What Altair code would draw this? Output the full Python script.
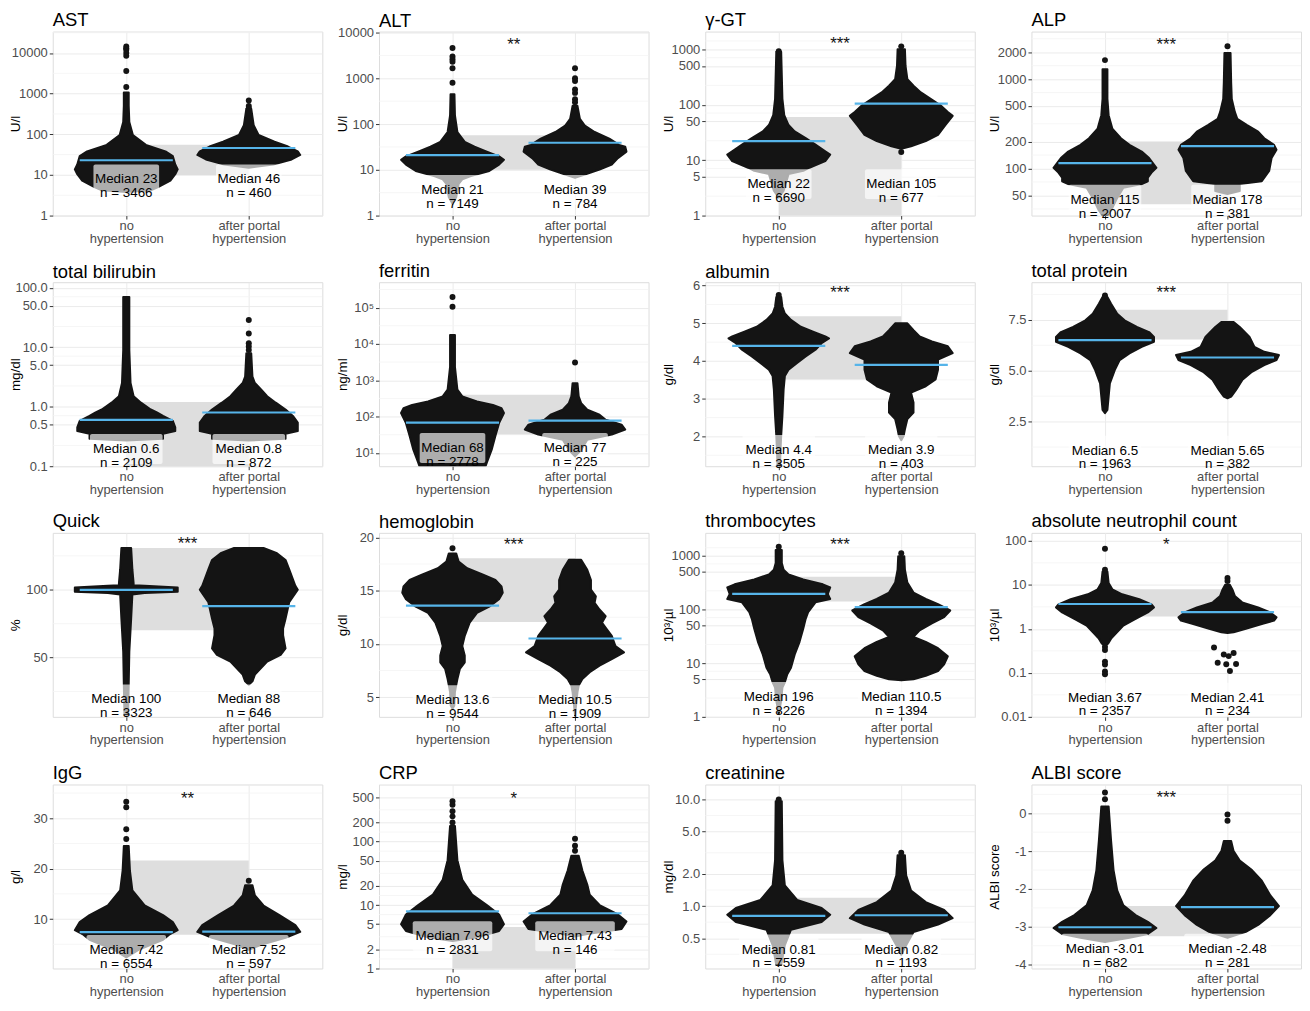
import math
import altair as alt
import pandas as pd

FONT = "Liberation Sans"
BLACK = "#141414"
BLUE = "#56B4E9"
W, H = 271, 185
X_DOMAIN = [0.4, 2.6]
PX_PER_UNIT = W / (X_DOMAIN[1] - X_DOMAIN[0])

titles = ["AST", "ALT", "γ-GT", "ALP",
          "total bilirubin", "ferritin", "albumin", "total protein",
          "Quick", "hemoglobin", "thrombocytes", "absolute neutrophil count",
          "IgG", "CRP", "creatinine", "ALBI score"]
units = ["U/l", "U/l", "U/l", "U/l", "mg/dl", "ng/ml", "g/dl", "g/dl",
         "%", "g/dl", "10³/µl", "10³/µl", "g/l", "mg/l", "mg/dl", "ALBI score"]
scale_types = ["log", "log", "log", "log", "log", "log", "linear", "linear",
               "linear", "linear", "log", "log", "linear", "log", "log", "linear"]
domains = [[1, 33700], [1, 10500], [1, 2090], [29.8, 3400],
           [0.1, 124], [4.3, 500000], [1.21, 6.09], [0.31, 9.35],
           [6.3, 142], [3.14, 20.43], [1, 2680], [0.01, 152],
           [0.2, 36.7], [1, 795], [0.26, 13.8], [-4.1, 0.76]]
tick_values = [[1, 10, 100, 1000, 10000], [1, 10, 100, 1000, 10000],
               [1, 5, 10, 50, 100, 500, 1000], [50, 100, 200, 500, 1000, 2000],
               [0.1, 0.5, 1, 5, 10, 50, 100], [10, 100, 1000, 10000, 100000],
               [2, 3, 4, 5, 6], [2.5, 5, 7.5],
               [50, 100], [5, 10, 15, 20], [1, 5, 10, 50, 100, 500, 1000],
               [0.01, 0.1, 1, 10, 100],
               [10, 20, 30], [1, 2, 5, 10, 20, 50, 100, 200, 500],
               [0.5, 1, 2, 5, 10], [-4, -3, -2, -1, 0]]
label_formats = ["~g", "~g", "~g", "~g", ".1f", "sup", "d", ".1f",
                 "d", "d", "~g", "~g", "d", "~g", ".1f", "int"]
group_names = [["no", "hypertension"], ["after portal", "hypertension"]]

medians_no = [23, 21, 22, 115, 0.6, 68, 4.4, 6.5, 100, 13.6, 196, 3.67, 7.42, 7.96, 0.81, -3.01]
medians_ph = [46, 39, 105, 178, 0.8, 77, 3.9, 5.65, 88, 10.5, 110.5, 2.41, 7.52, 7.43, 0.82, -2.48]
n_no = [3466, 7149, 6690, 2007, 2109, 2778, 3505, 1963, 3323, 9544, 8226, 2357, 6554, 2831, 7559, 682]
n_ph = [460, 784, 677, 381, 872, 225, 403, 382, 646, 1909, 1394, 234, 597, 146, 1193, 281]
stars = ["", "**", "***", "***", "", "", "***", "***", "***", "***", "***", "*", "**", "*", "", "***"]
star_y = [None, 6400, 1440, 2690, None, None, 5.92, 9.02, 136.4, 19.7, 1900, 100, 34.7, 550, None, 0.52]
label_y = [6.9, 3.3, 3.4, 42.5, 0.18, 12, 1.59, 0.98, 17.7, 4.53, 2.16, 0.0247, 3.5, 3.0, 0.375, -3.63]
rect_lo = [10, 10, 1, 40, 0.1, 32, 3.51, 6.53, 70.1, 12.05, 141, 1.92, 6.9, 1, 0.55, -3.25]
rect_hi = [55, 57, 60, 200, 1.2, 400, 5.19, 8.0, 130.8, 18.04, 407, 7.9, 21.6, 4.5, 1.2, -2.45]

# distribution outlines: [value, half-width in group units]
ast_no = [[1070, 0.02], [500, 0.02], [200, 0.025], [96, 0.054], [55, 0.16], [38, 0.32], [29, 0.38],
          [18, 0.40], [13.7, 0.42], [10.4, 0.40], [7.2, 0.36], [5.0, 0.26], [4.2, 0.2], [3.8, 0.0]]
ast_ph = [[425, 0.02], [168, 0.04], [96, 0.08], [66, 0.21], [50, 0.32], [38, 0.40], [31, 0.42],
          [24, 0.35], [18, 0.20], [15, 0.0]]
alt_no = [[450, 0.016], [154, 0.02], [67, 0.04], [41, 0.1], [32, 0.18], [25, 0.28], [19.6, 0.38],
          [16.6, 0.42], [13, 0.38], [9.4, 0.3], [7.3, 0.15], [6.2, 0.08], [4.9, 0.05], [2.5, 0.03], [1.8, 0.0]]
alt_ph = [[250, 0.02], [130, 0.04], [93, 0.08], [67, 0.16], [48, 0.28], [35, 0.36], [32, 0.41],
          [25, 0.42], [18, 0.35], [13, 0.30], [10.1, 0.20], [7.9, 0.08], [6.7, 0.0]]
ggt_no = [[900, 0.02], [128, 0.03], [65, 0.045], [43, 0.08], [33, 0.13], [25, 0.22], [19, 0.30],
          [14.4, 0.38], [12.6, 0.42], [9.6, 0.38], [7.3, 0.25], [6.4, 0.2], [5.6, 0.08], [2.8, 0.04], [2.1, 0.0]]
ggt_ph = [[1000, 0.03], [500, 0.035], [290, 0.05], [220, 0.1], [167, 0.16], [128, 0.24], [98, 0.32],
          [74, 0.38], [63, 0.42], [43, 0.36], [28.5, 0.30], [22, 0.2], [17.7, 0.08], [16, 0.0]]
alp_no = [[1290, 0.02], [600, 0.02], [395, 0.03], [280, 0.06], [218, 0.13], [184, 0.2], [155, 0.3],
          [131, 0.36], [111, 0.40], [102, 0.42], [90, 0.38], [79, 0.35], [72, 0.35], [67, 0.3],
          [61, 0.15], [47, 0.1], [34, 0.05], [30, 0.02]]
alp_ph = [[1960, 0.025], [920, 0.03], [600, 0.035], [430, 0.06], [360, 0.08], [306, 0.16], [258, 0.25],
          [218, 0.3], [184, 0.38], [162, 0.40], [131, 0.36], [94, 0.34], [72, 0.28], [67, 0.1],
          [56, 0.1], [52, 0.0]]
bil_no = [[70, 0.025], [9, 0.025], [2.5, 0.035], [1.5, 0.06], [1.17, 0.12], [0.9, 0.2], [0.8, 0.25],
          [0.7, 0.3], [0.58, 0.38], [0.45, 0.40], [0.39, 0.40], [0.35, 0.30], [0.29, 0.30], [0.27, 0.0]]
bil_ph = [[7.9, 0.02], [3.2, 0.03], [2.5, 0.05], [1.95, 0.1], [1.5, 0.15], [1.17, 0.22], [0.9, 0.3],
          [0.7, 0.36], [0.54, 0.40], [0.39, 0.40], [0.35, 0.3], [0.29, 0.3], [0.27, 0.0]]
fer_no = [[17500, 0.02], [2340, 0.02], [550, 0.04], [358, 0.08], [262, 0.2], [210, 0.33], [170, 0.40],
          [125, 0.42], [66, 0.38], [29, 0.35], [12.3, 0.32], [5.4, 0.28], [4.3, 0.27]]
fer_ph = [[830, 0.02], [550, 0.025], [358, 0.03], [234, 0.05], [154, 0.1], [112, 0.2], [82, 0.25],
          [60, 0.38], [44, 0.41], [32, 0.3], [23, 0.1], [12, 0.05], [8, 0.0]]
alb_no = [[5.7, 0.02], [5.44, 0.03], [5.26, 0.05], [5.09, 0.1], [4.91, 0.18], [4.78, 0.28], [4.65, 0.38],
          [4.6, 0.41], [4.47, 0.35], [4.3, 0.30], [4.12, 0.22], [3.95, 0.15], [3.77, 0.08], [3.6, 0.05],
          [3.25, 0.04], [2.54, 0.03], [2.02, 0.02], [1.67, 0.015], [1.23, 0.01]]
alb_ph = [[5.0, 0.05], [4.82, 0.1], [4.65, 0.15], [4.52, 0.25], [4.39, 0.38], [4.21, 0.42], [4.04, 0.3],
          [3.77, 0.3], [3.51, 0.28], [3.33, 0.2], [3.16, 0.08], [2.9, 0.1], [2.63, 0.1], [2.46, 0.05],
          [2.19, 0.03], [2.02, 0.02], [1.9, 0.0]]
tp_no = [[8.62, 0.02], [8.29, 0.05], [7.8, 0.1], [7.48, 0.16], [7.15, 0.26], [6.9, 0.36], [6.66, 0.40],
         [6.42, 0.40], [6.17, 0.3], [5.85, 0.2], [5.52, 0.12], [5.03, 0.08], [4.38, 0.04], [3.73, 0.03],
         [3.08, 0.02], [2.92, 0.0]]
tp_ph = [[7.39, 0.05], [7.15, 0.1], [6.66, 0.18], [6.17, 0.22], [5.93, 0.3], [5.77, 0.42], [5.52, 0.40],
         [5.28, 0.3], [4.95, 0.2], [4.54, 0.12], [4.06, 0.07], [3.73, 0.03], [3.65, 0.0]]
qui_no = [[130.8, 0.04], [115, 0.05], [105, 0.06], [103.4, 0.06], [102.9, 0.15], [101.7, 0.42],
          [98.5, 0.42], [97.6, 0.15], [96.6, 0.05], [78.6, 0.04], [54.4, 0.025], [30, 0.02], [8.3, 0.015]]
qui_ph = [[130.8, 0.12], [127, 0.23], [122, 0.3], [115, 0.33], [103, 0.38], [100, 0.40], [90.8, 0.33],
          [78.6, 0.3], [71.4, 0.28], [66.5, 0.28], [56.8, 0.3], [52, 0.26], [47, 0.15], [42.2, 0.1],
          [37.4, 0.05], [32.5, 0.03], [30, 0.0]]
hb_no = [[18.5, 0.03], [17.73, 0.05], [17.1, 0.12], [16.5, 0.25], [16.0, 0.35], [15.4, 0.40], [14.8, 0.41],
         [14.2, 0.38], [13.5, 0.3], [12.9, 0.2], [11.99, 0.14], [10.75, 0.1], [9.8, 0.08], [8.9, 0.1],
         [8.26, 0.1], [7.64, 0.06], [6.7, 0.04], [6.1, 0.03], [5.47, 0.02], [4.2, 0.015], [3.9, 0.0]]
hb_ph = [[17.9, 0.05], [16.96, 0.1], [16.0, 0.13], [15.1, 0.13], [14.47, 0.17], [13.85, 0.16], [13.23, 0.2],
         [12.6, 0.25], [11.99, 0.22], [11.37, 0.26], [10.75, 0.3], [9.8, 0.33], [9.2, 0.40], [8.57, 0.3],
         [7.95, 0.2], [7.33, 0.12], [6.7, 0.06], [6.09, 0.03], [5.47, 0.02], [3.3, 0.0]]
thr_no = [[1290, 0.025], [735, 0.025], [550, 0.04], [450, 0.08], [364, 0.2], [295, 0.36], [257, 0.42],
          [194, 0.40], [157, 0.42], [136, 0.3], [89, 0.24], [67, 0.22], [44, 0.2], [25, 0.17], [14.4, 0.13],
          [8.2, 0.1], [6.2, 0.07], [4.4, 0.05], [3.5, 0.03], [2.0, 0.02], [1.15, 0.0]]
thr_ph = [[980, 0.025], [550, 0.03], [317, 0.05], [207, 0.1], [157, 0.2], [126, 0.3], [96, 0.40],
          [72, 0.35], [55, 0.25], [41, 0.15], [31, 0.1], [25, 0.2], [19, 0.3], [13.4, 0.38], [9.5, 0.35],
          [7.1, 0.3], [5.8, 0.2], [5, 0.1], [4.8, 0.0]]
neu_no = [[20, 0.02], [11, 0.03], [7.9, 0.06], [6.1, 0.14], [4.7, 0.28], [3.6, 0.38], [3.06, 0.40],
          [2.36, 0.35], [1.68, 0.25], [1.19, 0.15], [0.84, 0.1], [0.6, 0.05], [0.46, 0.025], [0.42, 0.0]]
neu_ph = [[10, 0.02], [7.9, 0.04], [5.6, 0.06], [4.0, 0.12], [3.06, 0.25], [2.36, 0.35], [1.83, 0.40],
          [1.54, 0.38], [1.29, 0.28], [1.0, 0.15], [0.84, 0.05], [0.8, 0.0]]
igg_no = [[24.5, 0.02], [19.6, 0.03], [15.7, 0.05], [12.7, 0.15], [10.8, 0.3], [9.4, 0.38], [7.8, 0.42],
          [6.9, 0.35], [5.9, 0.3], [3.9, 0.1], [2.4, 0.0]]
igg_ph = [[16.7, 0.03], [14.7, 0.05], [12.7, 0.12], [10.8, 0.25], [8.8, 0.38], [7.45, 0.42], [6.3, 0.3],
          [4.9, 0.1], [3.9, 0.0]]
crp_no = [[177, 0.02], [51, 0.04], [25, 0.08], [14.6, 0.16], [10, 0.28], [7.1, 0.38], [5, 0.42],
          [3.9, 0.38], [3.1, 0.2], [2.7, 0.0]]
crp_ph = [[60, 0.03], [35, 0.06], [21, 0.1], [14.6, 0.12], [10, 0.2], [7.1, 0.35], [5.5, 0.42],
          [4.2, 0.38], [3.5, 0.1], [3.2, 0.0]]
cre_no = [[9.6, 0.025], [2.7, 0.03], [1.56, 0.05], [1.14, 0.15], [0.96, 0.35], [0.83, 0.42], [0.71, 0.35],
          [0.6, 0.1], [0.43, 0.05], [0.28, 0.02]]
cre_ph = [[3.0, 0.03], [1.94, 0.04], [1.4, 0.08], [1.09, 0.2], [0.92, 0.35], [0.77, 0.42], [0.67, 0.3],
          [0.57, 0.1], [0.43, 0.04], [0.35, 0.0]]
albi_no = [[0.18, 0.03], [-0.73, 0.05], [-1.5, 0.07], [-2.04, 0.1], [-2.43, 0.15], [-2.69, 0.25],
           [-2.87, 0.35], [-3.03, 0.42], [-3.19, 0.35], [-3.29, 0.2], [-3.4, 0.0]]
albi_ph = [[-0.73, 0.03], [-1.0, 0.05], [-1.25, 0.1], [-1.5, 0.2], [-1.78, 0.28], [-2.17, 0.35],
           [-2.45, 0.42], [-2.69, 0.35], [-2.95, 0.25], [-3.13, 0.15], [-3.29, 0.0]]

profiles_no = [ast_no, alt_no, ggt_no, alp_no, bil_no, fer_no, alb_no, tp_no,
               qui_no, hb_no, thr_no, neu_no, igg_no, crp_no, cre_no, albi_no]
profiles_ph = [ast_ph, alt_ph, ggt_ph, alp_ph, bil_ph, fer_ph, alb_ph, tp_ph,
               qui_ph, hb_ph, thr_ph, neu_ph, igg_ph, crp_ph, cre_ph, albi_ph]

# single points: [value, horizontal offset from group centre]
outliers_no = [
    [[14500, 0], [13000, 0], [12000, 0], [10000, 0], [8500, 0], [3600, 0], [1450, 0]],
    [[4600, 0], [3000, 0], [2600, 0], [2300, 0], [1650, 0], [800, 0]],
    [[920, 0]],
    [[1630, 0]],
    [],
    [[195000, 0], [105000, 0]],
    [[5.75, 0]],
    [[8.7, 0]],
    [],
    [[18.98, 0]],
    [[1480, 0]],
    [[66, 0], [22, 0], [0.39, 0], [0.33, 0], [0.18, 0], [0.155, 0], [0.107, 0], [0.093, 0]],
    [[33.3, 0], [32.2, 0], [27.8, 0], [25.9, 0]],
    [[433, 0], [380, 0], [300, 0], [250, 0], [200, 0]],
    [[10, 0]],
    [[0.55, 0], [0.37, 0]],
]
outliers_ph = [
    [[680, 0], [500, 0], [440, 0]],
    [[1650, 0], [1000, 0], [870, 0], [570, 0], [480, 0], [350, 0], [300, 0]],
    [[1130, 0], [14, 0]],
    [[2330, 0]],
    [[28.6, 0], [17, 0], [11.7, 0], [10.3, 0], [9, 0]],
    [[3100, 0]],
    [],
    [],
    [],
    [],
    [[1120, 0]],
    [[14.4, 0], [12.2, 0], [0.375, -0.11], [0.26, -0.03], [0.284, 0.05], [0.24, 0.01],
     [0.17, -0.08], [0.156, -0.01], [0.159, 0.07], [0.11, 0.02]],
    [[17.6, 0]],
    [[111, 0], [86, 0], [72, 0]],
    [[3.16, 0]],
    [[-0.03, 0], [-0.2, 0]],
]


def minor_vals(ticks, dom, log):
    f = (lambda v: math.log10(v)) if log else (lambda v: v)
    g = (lambda t: 10 ** t) if log else (lambda t: t)
    t = [f(v) for v in ticks]
    lo, hi = f(dom[0]), f(dom[1])
    mids = [(a + b) / 2 for a, b in zip(t[:-1], t[1:])]
    if len(t) > 1:
        mids.append(t[0] - (t[1] - t[0]) / 2)
        mids.append(t[-1] + (t[-1] - t[-2]) / 2)
    return [g(m) for m in mids if lo < m < hi]


def top_label_room(ticks, dom, log):
    f = (lambda v: math.log10(v)) if log else (lambda v: v)
    lo, hi = f(dom[0]), f(dom[1])
    top = max(f(v) for v in ticks)
    dist = H * (hi - top) / (hi - lo)
    return max(0.0, 7.0 - dist)


def fmt_num(v):
    return f"{v:g}"


def panel(i):
    log = scale_types[i] == "log"
    ysc = alt.Scale(type="log" if log else "linear", domain=domains[i], nice=False, zero=False)
    axis_kw = dict(values=tick_values[i], title=units[i], grid=True, gridColor="#ebebeb",
                   tickColor="#333333", tickSize=3.5, labelColor="#4d4d4d", labelFontSize=13,
                   labelFont=FONT, titleFont=FONT, titleFontSize=13.5, titleFontWeight="normal",
                   titleColor="black", titleX=-37, titleBaseline="middle", domain=False,
                   labelPadding=2, labelOverlap=False)
    lf = label_formats[i]
    if lf == "sup":
        axis_kw["labelExpr"] = ("datum.value == 10 ? '10¹' : datum.value == 100 ? '10²' : "
                                "datum.value == 1000 ? '10³' : datum.value == 10000 ? '10⁴' : '10⁵'")
    elif lf == "int":
        axis_kw["labelExpr"] = "toString(datum.value)"
    else:
        axis_kw["format"] = lf
    yax = alt.Axis(**axis_kw)
    xax = alt.Axis(values=[1, 2], title=None, grid=True, gridColor="#ebebeb", tickColor="#333333",
                   tickSize=3.5, labelColor="#4d4d4d", labelFontSize=13, labelFont=FONT,
                   labelLineHeight=12.5, labelPadding=1, domain=False,
                   labelExpr="datum.value == 1 ? ['%s','%s'] : ['%s','%s']" % (
                       group_names[0][0], group_names[0][1], group_names[1][0], group_names[1][1]))
    xsc = alt.Scale(domain=X_DOMAIN, nice=False, zero=False)

    def Y(f):
        return alt.Y(f, type="quantitative", scale=ysc, axis=yax)

    def X(f):
        return alt.X(f, type="quantitative", scale=xsc, axis=xax)

    layers = []
    minors = minor_vals(tick_values[i], domains[i], log)
    if minors:
        layers.append(alt.Chart(pd.DataFrame({"v": minors})).mark_rule(
            color="#f4f4f4", strokeWidth=0.8).encode(y=Y("v")))

    layers.append(alt.Chart(pd.DataFrame({"x1": [1], "x2": [2], "lo": [rect_lo[i]], "hi": [rect_hi[i]]}))
                  .mark_rect(color="#dedede").encode(x=X("x1"), x2=alt.X2("x2"), y=Y("lo"), y2=alt.Y2("hi")))

    rows = []
    for g, (c, prof) in enumerate([(1, profiles_no[i]), (2, profiles_ph[i])]):
        for v, h in prof:
            rows.append({"g": g, "v": v, "lo": c - h, "hi": c + h})
    layers.append(alt.Chart(pd.DataFrame(rows)).mark_area(
        orient="horizontal", color=BLACK, stroke=BLACK, strokeWidth=2, strokeJoin="round", clip=True
    ).encode(y=Y("v"), x=X("lo"), x2=alt.X2("hi"), detail="g:N"))

    pts = [{"x": 1 + o, "v": v} for v, o in outliers_no[i]] + [{"x": 2 + o, "v": v} for v, o in outliers_ph[i]]
    if pts:
        layers.append(alt.Chart(pd.DataFrame(pts)).mark_circle(size=36, color=BLACK, opacity=1, clip=True)
                      .encode(x=X("x"), y=Y("v")))

    med = pd.DataFrame({"x1": [1 - 0.38, 2 - 0.38], "x2": [1 + 0.38, 2 + 0.38],
                        "v": [medians_no[i], medians_ph[i]]})
    layers.append(alt.Chart(med).mark_rule(color=BLUE, strokeWidth=2.2)
                  .encode(x=X("x1"), x2=alt.X2("x2"), y=Y("v")))

    texts = [f"Median {fmt_num(medians_no[i])}\n n = {n_no[i]}",
             f"Median {fmt_num(medians_ph[i])}\n n = {n_ph[i]}"]
    lab_rows = []
    for c, t in zip([1, 2], texts):
        nchar = max(len(s) for s in t.split("\n"))
        half = (7.0 * nchar + 3) / 2 / PX_PER_UNIT
        lab_rows.append({"x": c, "bx1": c - half, "bx2": c + half, "v": label_y[i], "t": t})
    lab = pd.DataFrame(lab_rows)
    layers.append(alt.Chart(lab).mark_rect(color="white", opacity=0.65, cornerRadius=2,
                                           yOffset=-17, y2Offset=13)
                  .encode(x=X("bx1"), x2=alt.X2("bx2"), y=Y("v"), y2=alt.Y2("v")))
    layers.append(alt.Chart(lab).mark_text(lineBreak="\n", fontSize=13.5, font=FONT, color="black",
                                           lineHeight=14, baseline="middle", dy=-2)
                  .encode(x=X("x"), y=Y("v"), text="t:N"))

    if stars[i]:
        layers.append(alt.Chart(pd.DataFrame({"x": [1.5], "v": [star_y[i]], "t": [stars[i]]}))
                      .mark_text(fontSize=17, font=FONT, color=BLACK, baseline="middle", dy=4)
                      .encode(x=X("x"), y=Y("v"), text="t:N"))

    return alt.layer(*layers).properties(
        width=W, height=H,
        title=alt.TitleParams(titles[i], anchor="start", frame="group", fontSize=18.5, font=FONT,
                              fontWeight="normal", color="black", offset=2,
                              dy=top_label_room(tick_values[i], domains[i], log)))


chart = alt.concat(*[panel(i) for i in range(16)], columns=4,
                   spacing={"row": 15, "column": 11}).properties(padding=0).configure_view(
    stroke="#5a5a5a", strokeWidth=1).configure(font=FONT)

chart.save("out.html", embed_options={"renderer": "svg", "actions": False})
